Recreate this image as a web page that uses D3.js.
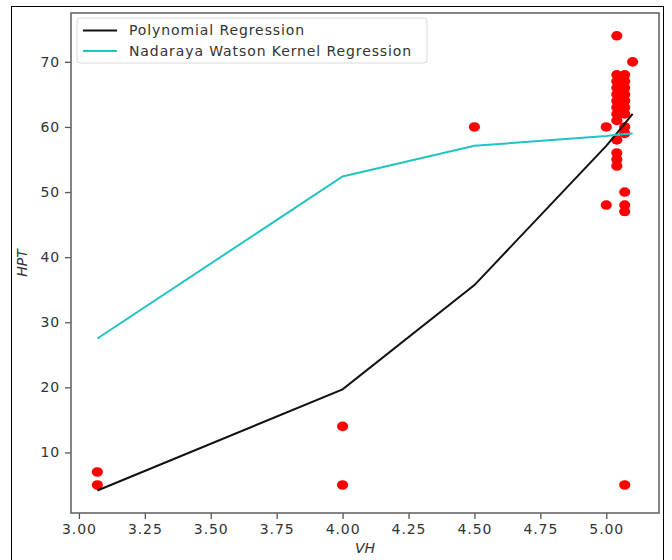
<!DOCTYPE html>
<html>
<head>
<meta charset="utf-8">
<script src="https://cdn.jsdelivr.net/npm/d3@7"></script>
<style>
  body { margin: 0; background: #fff; }
  text { font-family: "DejaVu Sans", sans-serif; }
</style>
</head>
<body>
<div id="chart"></div>
<script>
// scatter data (VH, HPT)
var pointVH = [3.07, 3.07, 4.0, 4.0, 4.5, 5.0, 5.0,
  5.04, 5.04, 5.04, 5.04, 5.04, 5.04, 5.04, 5.04, 5.04, 5.04, 5.04, 5.04, 5.04,
  5.07, 5.07, 5.07, 5.07, 5.07, 5.07, 5.07, 5.07, 5.07, 5.07, 5.07, 5.07, 5.07,
  5.1];
var pointHPT = [7, 5, 14, 5, 60, 60, 48,
  74, 68, 67, 66, 65, 64, 63, 62, 61, 58, 56, 55, 54,
  68, 67, 66, 65, 64, 63, 62, 60, 59, 50, 48, 47, 5,
  70];

// regression curves evaluated at sorted VH
var curveVH = [3.07, 4.0, 4.5, 5.0, 5.04, 5.07, 5.1];
var polyHPT = [4.15, 19.7, 35.7, 57.1, 59.0, 60.5, 62.0];
var nwHPT = [27.5, 52.4, 57.1, 58.6, 58.8, 58.9, 59.0];

var xTicks = [3.0, 3.25, 3.5, 3.75, 4.0, 4.25, 4.5, 4.75, 5.0];
var yTicks = [10, 20, 30, 40, 50, 60, 70];
var legendNames = ["Polynomial Regression", "Nadaraya Watson Kernel Regression"];
var legendColors = ["#111111", "#22c3c3"];

var width = 672, height = 560;
var margin = {top: 13, right: 13, bottom: 47, left: 71};

var svg = d3.select("#chart").append("svg")
  .attr("width", width)
  .attr("height", height);

// outer frame of the screenshot
svg.append("rect")
  .attr("x", 11.5).attr("y", 6.5)
  .attr("width", 652).attr("height", 600)
  .attr("fill", "none").attr("stroke", "#000").attr("stroke-width", 1);

var x = d3.scaleLinear()
  .domain([2.97, 5.2])
  .range([margin.left, width - margin.right]);
var y = d3.scaleLinear()
  .domain([0.7, 77.5])
  .range([height - margin.bottom, margin.top]);

var points = pointVH.map((v, i) => ({vh: v, hpt: pointHPT[i]}));

svg.append("g").selectAll("ellipse")
  .data(points)
  .enter()
  .append("ellipse")
  .attr("cx", d => x(d.vh))
  .attr("cy", d => y(d.hpt))
  .attr("rx", 5.6)
  .attr("ry", 4.8)
  .attr("fill", "#ff0000");

var line = d3.line()
  .x(d => x(d[0]))
  .y(d => y(d[1]));

svg.append("path")
  .datum(curveVH.map((v, i) => [v, polyHPT[i]]))
  .attr("d", line)
  .attr("fill", "none")
  .attr("stroke", legendColors[0])
  .attr("stroke-width", 2);

svg.append("path")
  .datum(curveVH.map((v, i) => [v, nwHPT[i]]))
  .attr("d", line)
  .attr("fill", "none")
  .attr("stroke", legendColors[1])
  .attr("stroke-width", 2);

// axes
var bottomAxis = d3.axisBottom(x).tickValues(xTicks).tickFormat(d3.format(".2f"))
  .tickSizeInner(6).tickSizeOuter(0).tickPadding(5);
var leftAxis = d3.axisLeft(y).tickValues(yTicks)
  .tickSizeInner(6).tickSizeOuter(0).tickPadding(5);

var gx = svg.append("g")
  .attr("transform", `translate(0, ${height - margin.bottom})`)
  .call(bottomAxis);
var gy = svg.append("g")
  .attr("transform", `translate(${margin.left}, 0)`)
  .call(leftAxis);

[gx, gy].forEach(function(g) {
  g.select(".domain").remove();
  g.selectAll("line").attr("stroke", "#555").attr("stroke-width", 1.3);
  g.selectAll("text")
    .attr("fill", "#333")
    .style("font-size", "14px")
    .style("letter-spacing", "0.9px");
});

// frame
svg.append("rect")
  .attr("x", margin.left).attr("y", margin.top)
  .attr("width", width - margin.left - margin.right)
  .attr("height", height - margin.top - margin.bottom)
  .attr("fill", "none")
  .attr("stroke", "#666")
  .attr("stroke-width", 1.6);

// axis labels
svg.append("text")
  .attr("x", (margin.left + width - margin.right) / 2)
  .attr("y", 553)
  .attr("text-anchor", "middle")
  .attr("fill", "#333")
  .style("font-size", "14px")
  .style("font-style", "italic")
  .text("VH");

svg.append("text")
  .attr("transform", `translate(27, ${(margin.top + height - margin.bottom) / 2}) rotate(-90)`)
  .attr("text-anchor", "middle")
  .attr("fill", "#333")
  .style("font-size", "14px")
  .style("font-style", "italic")
  .text("HPT");

// legend
var legend = svg.append("g").attr("transform", "translate(77, 18)");
legend.append("rect")
  .attr("width", 350).attr("height", 45)
  .attr("rx", 3)
  .attr("fill", "#fff").attr("fill-opacity", 0.8)
  .attr("stroke", "#d8d8d8");

legendNames.forEach(function(name, i) {
  var row = legend.append("g").attr("transform", `translate(0, ${12.5 + i * 20.5})`);
  row.append("line")
    .attr("x1", 6).attr("x2", 40)
    .attr("stroke", legendColors[i]).attr("stroke-width", 2);
  row.append("text")
    .attr("x", 52).attr("dy", "0.35em")
    .attr("fill", "#333")
    .style("font-size", "14px")
    .style("letter-spacing", "0.9px")
    .text(name);
});
</script>
</body>
</html>
